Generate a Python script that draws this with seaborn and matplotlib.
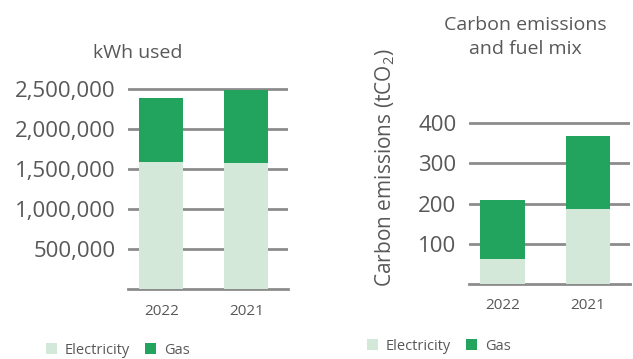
import matplotlib
matplotlib.use("Agg")
import matplotlib.pyplot as plt
from matplotlib.patches import Patch
import seaborn as sns
import pandas as pd

years = ["2022", "2021"]
kwh_electricity = [1590000, 1575000]
kwh_gas = [800000, 920000]
co2_electricity = [62, 186]
co2_gas = [147, 183]
kwh_ticks = [500000, 1000000, 1500000, 2000000, 2500000]
co2_ticks = [100, 200, 300, 400]

LIGHT = "#d4e8da"
DARK = "#22a35e"
GRID = "#8c8c8c"
TEXT = "#585858"

sns.set_theme(style="white")
plt.rcParams["font.family"] = ["Open Sans", "DejaVu Sans"]
plt.rcParams["mathtext.default"] = "regular"

fig = plt.figure(figsize=(6.33, 3.59), dpi=100)
W, H = 633, 359


def axes_px(x0, x1, ybot, ytop):
    return fig.add_axes([x0 / W, 1 - ybot / H, (x1 - x0) / W, (ybot - ytop) / H])


def stacked(ax, elec, gas, ticks, ymax, tickfmt):
    df = pd.DataFrame({"year": years, "elec": elec,
                       "total": [e + g for e, g in zip(elec, gas)]})
    sns.barplot(data=df, x="year", y="total", color=DARK, width=0.52,
                saturation=1, ax=ax, zorder=2, edgecolor="none", linewidth=0)
    sns.barplot(data=df, x="year", y="elec", color=LIGHT, width=0.52,
                saturation=1, ax=ax, zorder=3, edgecolor="none", linewidth=0)
    ax.set_xlim(-0.39, 1.49)
    ax.set_ylim(0, ymax)
    ax.set_yticks(ticks)
    ax.set_yticklabels([tickfmt(t) for t in ticks])
    ax.set_axisbelow(True)
    ax.yaxis.grid(True, color=GRID, linewidth=2)
    ax.xaxis.grid(False)
    for s in ["top", "right", "left"]:
        ax.spines[s].set_visible(False)
    ax.spines["bottom"].set_color(GRID)
    ax.spines["bottom"].set_linewidth(2)
    ax.set_xlabel("")
    ax.set_ylabel("")
    ax.tick_params(axis="y", length=0, pad=9, labelsize=16, labelcolor=TEXT)
    ax.tick_params(axis="x", length=0, pad=10.5, labelsize=11, labelcolor=TEXT)
    ax.patch.set_alpha(0)


# Left chart: kWh used
ax1 = axes_px(128, 288, 289, 85.3)
stacked(ax1, kwh_electricity, kwh_gas, kwh_ticks, 2550000, lambda t: f"{t:,}")
fig.text(138 / W, 1 - 53 / H, "kWh used", ha="center", va="center",
         fontsize=14, color=TEXT)

# Right chart: carbon emissions
ax2 = axes_px(469, 630, 283.7, 119.3)
stacked(ax2, co2_electricity, co2_gas, co2_ticks, 410, lambda t: f"{t}")
fig.text(525 / W, 1 - 37 / H, "Carbon emissions\nand fuel mix", ha="center",
         va="center", fontsize=14, color=TEXT, linespacing=1.45)
fig.text(385 / W, 1 - 168 / H, "Carbon emissions (tCO$_2$)", ha="center",
         va="center", rotation=90, fontsize=15, color=TEXT)

handles = [Patch(facecolor=LIGHT, edgecolor="none", label="Electricity"),
           Patch(facecolor=DARK, edgecolor="none", label="Gas")]
for lx, ly in [(46, 350), (367, 346)]:
    leg = fig.legend(handles=handles, loc="center left",
                     bbox_to_anchor=(lx / W, 1 - ly / H), ncol=2,
                     frameon=False, fontsize=10.5, borderpad=0,
                     borderaxespad=0, handlelength=0.76, handleheight=0.76,
                     handletextpad=0.55, columnspacing=1.0)
    for t in leg.get_texts():
        t.set_color(TEXT)

fig.savefig("out.png", dpi=100)
